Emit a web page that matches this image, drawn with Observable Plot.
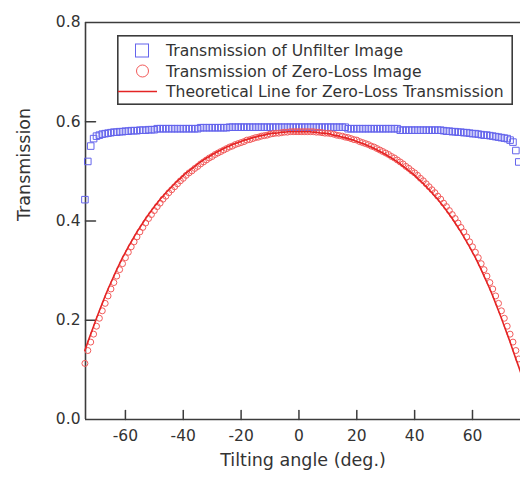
<!DOCTYPE html>
<html><head><meta charset="utf-8">
<script src="https://cdn.jsdelivr.net/npm/d3@7"></script>
<script src="https://cdn.jsdelivr.net/npm/@observablehq/plot@0.6"></script>
<style>
body{margin:0;background:#fff;}
#wrap{position:relative;width:520px;height:477px;font-family:"DejaVu Sans",sans-serif;overflow:hidden;}
#legend{position:absolute;left:117px;top:35px;}
</style>
</head><body>
<div id="wrap"></div>
<script>
// ---- data ----
const angles = [-74,-73,-72,-71,-70,-69,-68,-67,-66,-65,-64,-63,-62,-61,-60,-59,-58,-57,-56,-55,-54,-53,-52,-51,-50,-49,-48,-47,-46,-45,-44,-43,-42,-41,-40,-39,-38,-37,-36,-35,-34,-33,-32,-31,-30,-29,-28,-27,-26,-25,-24,-23,-22,-21,-20,-19,-18,-17,-16,-15,-14,-13,-12,-11,-10,-9,-8,-7,-6,-5,-4,-3,-2,-1,0,1,2,3,4,5,6,7,8,9,10,11,12,13,14,15,16,17,18,19,20,21,22,23,24,25,26,27,28,29,30,31,32,33,34,35,36,37,38,39,40,41,42,43,44,45,46,47,48,49,50,51,52,53,54,55,56,57,58,59,60,61,62,63,64,65,66,67,68,69,70,71,72,73,74,75,76];

const unfiltered = [0.443,0.520,0.551,0.566,0.571,0.573,0.575,0.576,0.577,0.578,0.579,0.579,0.580,0.580,0.581,0.581,0.582,0.582,0.582,0.583,0.583,0.583,0.584,0.584,0.584,0.586,0.586,0.586,0.586,0.586,0.586,0.586,0.586,0.586,0.586,0.586,0.586,0.586,0.586,0.586,0.588,0.588,0.588,0.588,0.588,0.588,0.588,0.588,0.588,0.588,0.589,0.589,0.589,0.589,0.589,0.589,0.589,0.589,0.589,0.589,0.589,0.589,0.589,0.589,0.589,0.589,0.589,0.589,0.589,0.589,0.589,0.589,0.589,0.589,0.589,0.589,0.589,0.589,0.589,0.589,0.589,0.589,0.589,0.589,0.589,0.589,0.589,0.589,0.589,0.589,0.589,0.586,0.586,0.586,0.586,0.586,0.586,0.586,0.586,0.586,0.586,0.586,0.586,0.586,0.586,0.586,0.586,0.586,0.586,0.583,0.583,0.583,0.583,0.583,0.583,0.583,0.583,0.583,0.583,0.583,0.583,0.583,0.583,0.583,0.582,0.581,0.581,0.580,0.580,0.579,0.579,0.578,0.578,0.577,0.576,0.576,0.575,0.574,0.573,0.573,0.572,0.571,0.570,0.569,0.568,0.567,0.566,0.563,0.559,0.542,0.519];

const zeroLoss = [0.113,0.139,0.156,0.172,0.188,0.204,0.219,0.234,0.249,0.263,0.276,0.289,0.302,0.314,0.326,0.337,0.348,0.358,0.368,0.378,0.387,0.396,0.405,0.413,0.421,0.429,0.436,0.444,0.450,0.457,0.463,0.469,0.475,0.481,0.486,0.492,0.497,0.501,0.506,0.510,0.515,0.519,0.523,0.527,0.530,0.534,0.537,0.540,0.543,0.546,0.549,0.551,0.554,0.556,0.558,0.560,0.563,0.564,0.566,0.568,0.569,0.571,0.572,0.573,0.575,0.576,0.577,0.577,0.578,0.579,0.579,0.580,0.580,0.580,0.580,0.580,0.580,0.580,0.580,0.580,0.579,0.579,0.578,0.577,0.577,0.576,0.575,0.573,0.572,0.571,0.569,0.568,0.566,0.564,0.563,0.560,0.558,0.556,0.554,0.551,0.549,0.546,0.543,0.540,0.537,0.534,0.530,0.527,0.523,0.519,0.515,0.510,0.506,0.501,0.497,0.492,0.486,0.481,0.475,0.469,0.463,0.457,0.450,0.444,0.436,0.429,0.421,0.413,0.405,0.396,0.387,0.378,0.368,0.358,0.348,0.337,0.326,0.314,0.302,0.289,0.276,0.263,0.249,0.234,0.219,0.204,0.188,0.172,0.156,0.139,0.122];

const lineAngles = [-74,-73,-72,-71,-70,-69,-68,-67,-66,-65,-64,-63,-62,-61,-60,-59,-58,-57,-56,-55,-54,-53,-52,-51,-50,-49,-48,-47,-46,-45,-44,-43,-42,-41,-40,-39,-38,-37,-36,-35,-34,-33,-32,-31,-30,-29,-28,-27,-26,-25,-24,-23,-22,-21,-20,-19,-18,-17,-16,-15,-14,-13,-12,-11,-10,-9,-8,-7,-6,-5,-4,-3,-2,-1,0,1,2,3,4,5,6,7,8,9,10,11,12,13,14,15,16,17,18,19,20,21,22,23,24,25,26,27,28,29,30,31,32,33,34,35,36,37,38,39,40,41,42,43,44,45,46,47,48,49,50,51,52,53,54,55,56,57,58,59,60,61,62,63,64,65,66,67,68,69,70,71,72,73,74,75,76,77];

const theory = [0.139,0.156,0.172,0.188,0.204,0.219,0.234,0.249,0.263,0.276,0.289,0.302,0.314,0.326,0.337,0.348,0.358,0.368,0.378,0.387,0.396,0.405,0.413,0.421,0.429,0.436,0.444,0.450,0.457,0.463,0.469,0.475,0.481,0.486,0.492,0.497,0.501,0.506,0.510,0.515,0.519,0.523,0.527,0.530,0.534,0.537,0.540,0.543,0.546,0.549,0.551,0.554,0.556,0.558,0.560,0.563,0.564,0.566,0.568,0.569,0.571,0.572,0.573,0.575,0.576,0.577,0.577,0.578,0.579,0.579,0.580,0.580,0.580,0.580,0.580,0.580,0.580,0.580,0.580,0.579,0.579,0.578,0.577,0.577,0.576,0.575,0.573,0.572,0.571,0.569,0.568,0.566,0.564,0.563,0.560,0.558,0.556,0.554,0.551,0.549,0.546,0.543,0.540,0.537,0.534,0.530,0.527,0.523,0.519,0.515,0.510,0.506,0.501,0.497,0.492,0.486,0.481,0.475,0.469,0.463,0.457,0.450,0.444,0.436,0.429,0.421,0.413,0.405,0.396,0.387,0.378,0.368,0.358,0.348,0.337,0.326,0.314,0.302,0.289,0.276,0.263,0.249,0.234,0.219,0.204,0.188,0.172,0.156,0.139,0.122,0.106,0.089];

const xTicks = [-60,-40,-20,0,20,40,60];
const yTicks = [0.0,0.2,0.4,0.6,0.8];
const xDomain = [-73.8, 76.6];
const yDomain = [0, 0.8];
const xTitle = "Tilting angle (deg.)";
const yTitle = "Transmission";
const seriesNames = ["Transmission of Unfilter Image","Transmission of Zero-Loss Image","Theoretical Line for Zero-Loss Transmission"];
const seriesColors = ["#6464ec","#f25a5a","#e42424"];

// ---- tables ----
const sq = angles.map((a,i)=>({x:a, y:unfiltered[i]}));
const ci = angles.map((a,i)=>({x:a, y:zeroLoss[i]}));
const th = lineAngles.map((a,i)=>({x:a, y:theory[i]}));

const frameColor = "#3c3c3c";
const tickShape = {draw(context, l) { context.moveTo(0, 0); context.lineTo(0, -l); }};

const chart = Plot.plot({
  width: 520, height: 477,
  marginLeft: 85, marginRight: 0, marginTop: 22, marginBottom: 58,
  x: {domain: xDomain, label: null},
  y: {domain: yDomain, label: null},
  style: {fontFamily: "'DejaVu Sans', sans-serif", fontSize: "15.5px", color: "#333", background: "#fff", overflow: "hidden"},
  marks: [
    Plot.ruleY(yDomain, {stroke: frameColor, strokeWidth: 1.6}),
    Plot.ruleX([xDomain[0]], {stroke: frameColor, strokeWidth: 1.6}),
    Plot.axisX(xTicks, {tickSize: 0, tickPadding: 10, tickFormat: d => String(d), label: null}),
    Plot.axisY(yTicks, {tickSize: 0, tickPadding: 5, tickFormat: d3.format(".1f"), label: null}),
    Plot.vector(xTicks, {x: d => d, frameAnchor: "bottom", length: 9, rotate: 0, anchor: "start", shape: tickShape, stroke: frameColor, strokeWidth: 1.5}),
    Plot.vector(yTicks.slice(1, -1), {y: d => d, frameAnchor: "left", length: 10, rotate: 90, anchor: "start", shape: tickShape, stroke: frameColor, strokeWidth: 1.5}),
    Plot.dot(sq, {x: "x", y: "y", symbol: "square", r: 3.7, stroke: seriesColors[0], fill: "none", strokeWidth: 1}),
    Plot.dot(ci, {x: "x", y: "y", r: 3, stroke: seriesColors[1], fill: "none", strokeWidth: 1}),
    Plot.line(th, {x: "x", y: "y", stroke: seriesColors[2], strokeWidth: 1.6}),
    Plot.text([xTitle], {text: d => d, frameAnchor: "bottom", dy: 46, fontSize: 17.5, fill: "#333"}),
    Plot.text([yTitle], {text: d => d, frameAnchor: "left", dx: -61, rotate: -90, fontSize: 17.5, fill: "#333"})
  ]
});
const wrap = document.getElementById("wrap");
wrap.appendChild(chart);

// ---- legend (SVG overlay) ----
const lw = 396, lh = 70;
const leg = d3.select(wrap).append("svg").attr("id","legend").attr("width", lw).attr("height", lh)
  .style("font-family","'DejaVu Sans', sans-serif");
leg.append("rect").attr("x",0.8).attr("y",0.8).attr("width",lw-1.6).attr("height",lh-1.6)
  .attr("fill","#fff").attr("stroke",frameColor).attr("stroke-width",1.6);
const rowY = [15.5, 36, 56.5];
leg.append("rect").attr("x",18.5).attr("y",rowY[0]-6.5).attr("width",13).attr("height",13)
  .attr("fill","none").attr("stroke",seriesColors[0]).attr("stroke-width",1);
leg.append("circle").attr("cx",25.5).attr("cy",rowY[1]).attr("r",6)
  .attr("fill","none").attr("stroke",seriesColors[1]).attr("stroke-width",1);
leg.append("line").attr("x1",1).attr("x2",40).attr("y1",rowY[2]).attr("y2",rowY[2])
  .attr("stroke",seriesColors[2]).attr("stroke-width",1.6);
seriesNames.forEach((s,i)=>{
  leg.append("text").attr("x",49).attr("y",rowY[i]).attr("dy","0.36em")
    .attr("font-size","15.6px").attr("fill","#333").text(s);
});
</script>
</body></html>
